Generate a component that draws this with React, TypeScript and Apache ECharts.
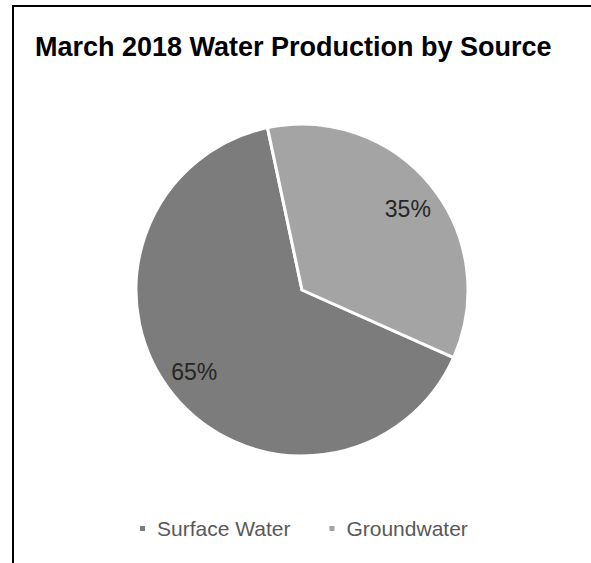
import React, { useEffect, useRef } from "react";
import * as echarts from "echarts";

const title = "March 2018 Water Production by Source";
const categories = ["Surface Water", "Groundwater"];
const shares = [65, 35];

const sliceColors = ["#7c7c7c", "#a4a4a4"];
const labelOffsets = [[-41, 28], [39, -27]];

export default function App() {
  const ref = useRef<HTMLDivElement>(null);
  useEffect(() => {
    if (!ref.current) return;
    const chart = echarts.init(ref.current, null, { renderer: "svg" });
    chart.setOption({
      animation: false,
      backgroundColor: "#ffffff",
      title: {
        text: title,
        left: 30,
        top: 28,
        textStyle: {
          fontFamily: "Liberation Sans",
          fontWeight: "bold",
          fontSize: 27,
          color: "#000000",
        },
      },
      graphic: [
        {
          type: "rect",
          shape: { x: 13, y: 6, width: 700, height: 700 },
          style: { fill: "none", stroke: "#000000", lineWidth: 2 },
          silent: true,
        },
      ],
      legend: {
        data: categories,
        bottom: 19,
        left: 133,
        icon: "rect",
        itemWidth: 7,
        itemHeight: 7,
        itemGap: 37,
        textStyle: {
          fontFamily: "Liberation Sans",
          fontSize: 21,
          color: "#595959",
          padding: [0, 0, 0, 6],
        },
      },
      series: [
        {
          type: "pie",
          center: [302, 290],
          radius: 166,
          startAngle: 336,
          clockwise: true,
          itemStyle: { borderColor: "#ffffff", borderWidth: 3 },
          label: {
            show: true,
            position: "inside",
            fontFamily: "Liberation Sans",
            fontSize: 23,
            color: "#262626",
            formatter: (p: any) => p.value + "%",
          },
          labelLine: { show: false },
          emphasis: { disabled: true },
          data: categories.map((name, i) => ({
            name,
            value: shares[i],
            itemStyle: { color: sliceColors[i] },
            label: { offset: labelOffsets[i] },
          })),
        },
      ],
    });
    return () => chart.dispose();
  }, []);
  return (
    <div
      ref={ref}
      style={{ position: "absolute", left: 0, top: 0, width: 591, height: 563 }}
    />
  );
}
